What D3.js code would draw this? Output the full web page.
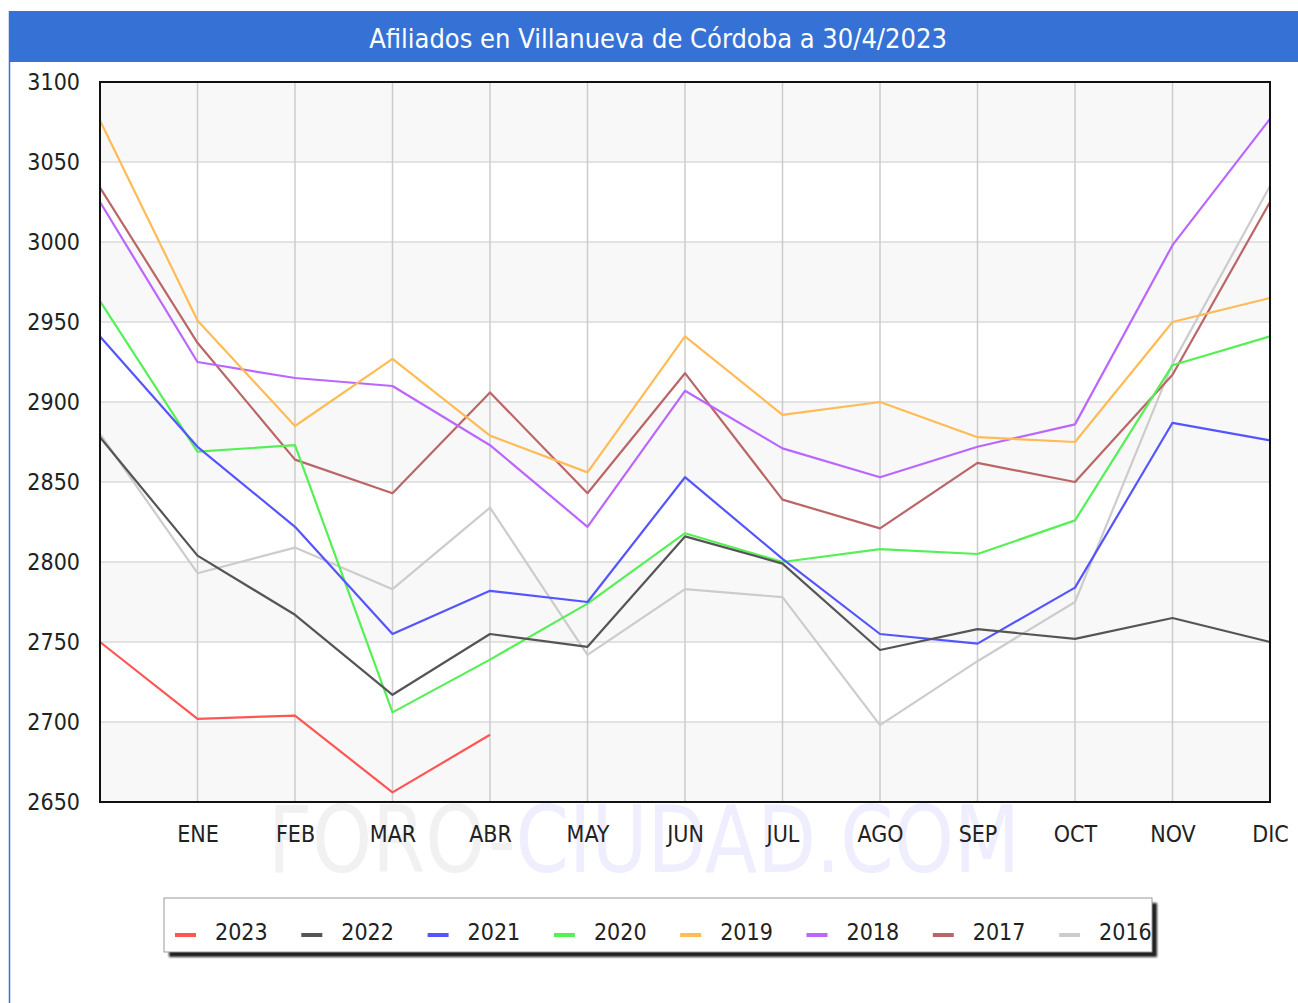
<!DOCTYPE html>
<html>
<head>
<meta charset="utf-8">
<script src="https://cdn.jsdelivr.net/npm/d3@7"></script>
<style>
  body { margin: 0; background: #fff; }
  svg { display: block; }
</style>
</head>
<body>
<div id="chart"></div>
<script>
// Afiliados en Villanueva de Córdoba - line chart per year
const months = ["", "ENE", "FEB", "MAR", "ABR", "MAY", "JUN", "JUL", "AGO", "SEP", "OCT", "NOV", "DIC"];
const yTicks = [2650, 2700, 2750, 2800, 2850, 2900, 2950, 3000, 3050, 3100];

const years = ["2023", "2022", "2021", "2020", "2019", "2018", "2017", "2016"];
const colors = ["#ff5555", "#555555", "#5555ff", "#55f055", "#ffbb55", "#bb66ff", "#bb6666", "#cccccc"];

const v2023 = [2750, 2702, 2704, 2656, 2692];
const v2022 = [2878, 2804, 2767, 2717, 2755, 2747, 2816, 2799, 2745, 2758, 2752, 2765, 2750];
const v2021 = [2941, 2872, 2822, 2755, 2782, 2775, 2853, 2802, 2755, 2749, 2784, 2887, 2876];
const v2020 = [2963, 2869, 2873, 2706, 2739, 2774, 2818, 2800, 2808, 2805, 2826, 2923, 2941];
const v2019 = [3076, 2951, 2885, 2927, 2879, 2856, 2941, 2892, 2900, 2878, 2875, 2950, 2965];
const v2018 = [3025, 2925, 2915, 2910, 2873, 2822, 2907, 2871, 2853, 2872, 2886, 2998, 3077];
const v2017 = [3034, 2937, 2864, 2843, 2906, 2843, 2918, 2839, 2821, 2862, 2850, 2917, 3025];
const v2016 = [2880, 2793, 2809, 2783, 2834, 2742, 2783, 2778, 2698, 2738, 2775, 2924, 3035];
const series = [v2023, v2022, v2021, v2020, v2019, v2018, v2017, v2016];

const W = 1298, H = 1003;
const plot = { left: 100, right: 1270, top: 82, bottom: 802 };
const FONT = "'DejaVu Sans Condensed', 'DejaVu Sans', sans-serif";

const svg = d3.select("#chart").append("svg")
  .attr("width", W).attr("height", H);

// title bar + left frame line
svg.append("rect")
  .attr("x", 10).attr("y", 11).attr("width", W - 10).attr("height", 51)
  .attr("fill", "#3672d6");
svg.append("line")
  .attr("x1", 9.5).attr("x2", 9.5).attr("y1", 11).attr("y2", H)
  .attr("stroke", "#3672d6").attr("stroke-width", 1.5);
svg.append("text")
  .attr("x", 658).attr("y", 48)
  .attr("text-anchor", "middle")
  .style("font-family", FONT).style("font-size", "27px")
  .style("fill", "#fff")
  .text("Afiliados en Villanueva de Córdoba a 30/4/2023");

const x = d3.scalePoint()
  .domain(d3.range(months.length))
  .range([plot.left, plot.right]);

const y = d3.scaleLinear()
  .domain([2650, 3100])
  .range([plot.bottom, plot.top]);

// alternating bands
const bands = svg.append("g");
yTicks.slice(0, -1).forEach((t, i) => {
  bands.append("rect")
    .attr("x", plot.left).attr("width", plot.right - plot.left)
    .attr("y", y(t + 50)).attr("height", y(t) - y(t + 50))
    .attr("fill", i % 2 === 0 ? "#f8f8f8" : "#ffffff");
});

// watermark
const wm = svg.append("text")
  .attr("x", 268).attr("y", 872)
  .attr("textLength", 752).attr("lengthAdjust", "spacingAndGlyphs")
  .style("font-family", FONT).style("font-size", "92px");
wm.append("tspan").style("fill", "#f1f1f1").text("FORO-");
wm.append("tspan").style("fill", "#eeeeff").text("CIUDAD.COM");

// grid
svg.append("g").selectAll("line")
  .data(yTicks)
  .join("line")
  .attr("x1", plot.left).attr("x2", plot.right)
  .attr("y1", d => y(d)).attr("y2", d => y(d))
  .attr("stroke", "#e2e2e2").attr("stroke-width", 2);

svg.append("g").selectAll("line")
  .data(d3.range(1, months.length))
  .join("line")
  .attr("x1", d => x(d)).attr("x2", d => x(d))
  .attr("y1", plot.top).attr("y2", plot.bottom)
  .attr("stroke", "#cccccc").attr("stroke-width", 1.5);

// axes labels
const yAxis = d3.axisLeft(y).tickValues(yTicks).tickFormat(d3.format("d"))
  .tickSize(0).tickPadding(20);
svg.append("g")
  .attr("transform", `translate(${plot.left},0)`)
  .call(yAxis)
  .call(g => g.select(".domain").remove())
  .call(g => g.selectAll("text")
    .style("font-family", FONT).style("font-size", "23px").style("fill", "#222")
    .attr("dy", "0.32em"));

const xAxis = d3.axisBottom(x).tickFormat(i => months[i]).tickSize(0).tickPadding(24);
svg.append("g")
  .attr("transform", `translate(0,${plot.bottom})`)
  .call(xAxis)
  .call(g => g.select(".domain").remove())
  .call(g => g.selectAll("text")
    .style("font-family", FONT).style("font-size", "23px").style("fill", "#222"));

// lines, oldest first so 2023 is on top
const line = d3.line()
  .x((d, i) => x(i))
  .y(d => y(d));

const lines = svg.append("g");
series.map((s, i) => ({ s, i })).reverse().forEach(({ s, i }) => {
  lines.append("path")
    .datum(s)
    .attr("d", line)
    .attr("fill", "none")
    .attr("stroke", colors[i])
    .attr("stroke-width", 2.2)
    .attr("stroke-linejoin", "round");
});

// plot frame
svg.append("rect")
  .attr("x", plot.left).attr("y", plot.top)
  .attr("width", plot.right - plot.left).attr("height", plot.bottom - plot.top)
  .attr("fill", "none").attr("stroke", "#111").attr("stroke-width", 2);

// legend
const lg = { x: 164, y: 898, w: 988, h: 54 };
const defs = svg.append("defs");
const blur = defs.append("filter").attr("id", "shadow")
  .attr("x", "-5%").attr("y", "-30%").attr("width", "110%").attr("height", "160%");
blur.append("feGaussianBlur").attr("stdDeviation", 1.2);

svg.append("rect")
  .attr("x", lg.x + 5).attr("y", lg.y + 5).attr("width", lg.w).attr("height", lg.h)
  .attr("fill", "#222").attr("filter", "url(#shadow)");
svg.append("rect")
  .attr("x", lg.x).attr("y", lg.y).attr("width", lg.w).attr("height", lg.h)
  .attr("fill", "#fff").attr("stroke", "#999").attr("stroke-width", 1);

years.forEach((yr, i) => {
  const gx = lg.x + 11 + i * 126.3;
  svg.append("line")
    .attr("x1", gx).attr("x2", gx + 21)
    .attr("y1", 935).attr("y2", 935)
    .attr("stroke", colors[i]).attr("stroke-width", 4);
  svg.append("text")
    .attr("x", gx + 40).attr("y", 940)
    .style("font-family", FONT).style("font-size", "23px").style("fill", "#222")
    .text(yr);
});
</script>
</body>
</html>
